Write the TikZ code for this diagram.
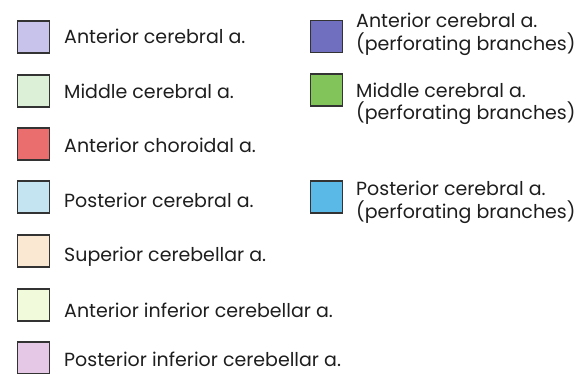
\documentclass[tikz,border=0pt]{standalone}
\usepackage{fontspec}
\setmainfont{Poppins}
\definecolor{acA}{RGB}{200,195,235}
\definecolor{mcA}{RGB}{220,240,215}
\definecolor{achA}{RGB}{235,110,110}
\definecolor{pcA}{RGB}{195,228,240}
\definecolor{scA}{RGB}{250,232,210}
\definecolor{aicA}{RGB}{242,250,220}
\definecolor{picA}{RGB}{228,200,230}
\definecolor{acP}{RGB}{112,110,190}
\definecolor{mcP}{RGB}{130,195,90}
\definecolor{pcP}{RGB}{90,185,230}
\definecolor{txt}{RGB}{30,30,30}
\begin{document}
\begin{tikzpicture}[x=1pt,y=-1pt,
  swatch/.style={draw=black!80,line width=1.3pt,minimum size=32pt,inner sep=0pt},
  lab/.style={anchor=base west,inner sep=0pt,text=txt,font=\fontsize{19}{23}\selectfont}]
\useasboundingbox (0,0) rectangle (576,373);
\node[swatch,fill=acA] (s1) at (33.5,37) {};
\node[swatch,fill=mcA] (s2) at (33.5,91) {};
\node[swatch,fill=achA] (s3) at (33.5,144) {};
\node[swatch,fill=pcA] (s4) at (33.5,197) {};
\node[swatch,fill=scA] (s5) at (33.5,251) {};
\node[swatch,fill=aicA] (s6) at (33.5,305) {};
\node[swatch,fill=picA] (s7) at (33.5,358) {};
\node[lab] (t1) at (64,43) {Anterior cerebral a.};
\node[lab] (t2) at (64,98) {Middle cerebral a.};
\node[lab] (t3) at (64,152) {Anterior choroidal a.};
\node[lab] (t4) at (64,207) {Posterior cerebral a.};
\node[lab] (t5) at (64,261) {Superior cerebellar a.};
\node[lab] (t6) at (64,317) {Anterior inferior cerebellar a.};
\node[lab] (t7) at (64,366) {Posterior inferior cerebellar a.};
\node[swatch,fill=acP] (r1) at (326.5,36.5) {};
\node[swatch,fill=mcP] (r2) at (326.5,90) {};
\node[swatch,fill=pcP] (r3) at (326.5,197) {};
\node[lab] (u1a) at (356,27) {Anterior cerebral a.};
\node[lab] (u1b) at (356,50) {(perforating branches)};
\node[lab] (u2a) at (356,97) {Middle cerebral a.};
\node[lab] (u2b) at (356,119) {(perforating branches)};
\node[lab] (u3a) at (356,195) {Posterior cerebral a.};
\node[lab] (u3b) at (356,218) {(perforating branches)};
\end{tikzpicture}
\end{document}
